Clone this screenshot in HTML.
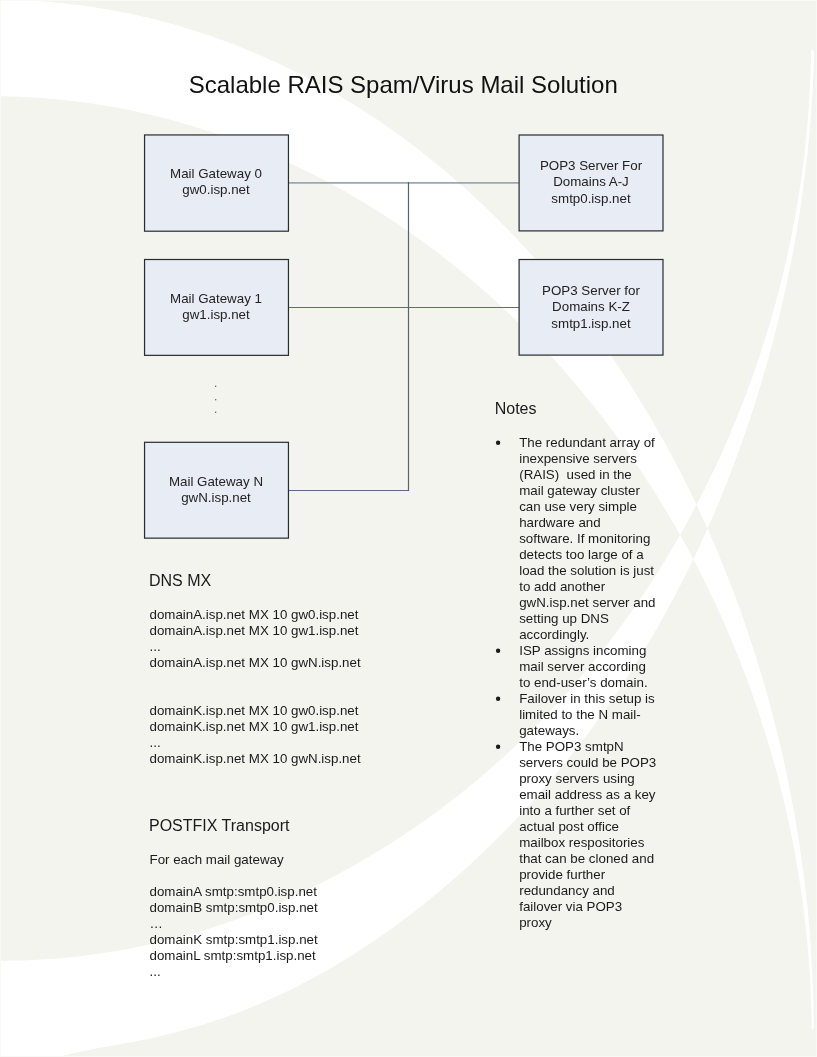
<!DOCTYPE html>
<html><head><meta charset="utf-8"><style>
html,body{margin:0;padding:0;background:#F3F4EE;}
body{width:817px;height:1057px;overflow:hidden;position:relative;}
svg{position:absolute;left:0;top:0;will-change:transform;}
text{font-family:"Liberation Sans",sans-serif;white-space:pre;}
</style></head><body>
<svg width="817" height="1057" viewBox="0 0 817 1057">
<rect x="0" y="0" width="817" height="1057" fill="#F3F4EE"/>
<path d="M-23.2,-0.1 L-13.4,-0.3 L-3.5,-0.3 L6.3,-0.2 L16.0,0.0 L25.7,0.4 L35.3,0.9 L44.9,1.6 L54.5,2.4 L64.0,3.3 L73.5,4.4 L82.9,5.6 L92.3,6.9 L101.6,8.4 L110.8,10.0 L120.1,11.7 L129.2,13.6 L138.4,15.5 L147.4,17.6 L156.5,19.8 L165.4,22.2 L174.4,24.6 L183.2,27.2 L192.1,29.9 L200.8,32.7 L209.6,35.6 L218.2,38.7 L226.8,41.8 L235.4,45.1 L243.9,48.5 L252.4,51.9 L260.8,55.5 L269.1,59.2 L277.4,63.1 L285.7,67.0 L293.9,71.0 L302.0,75.1 L310.1,79.3 L318.1,83.7 L326.1,88.1 L334.0,92.6 L341.8,97.2 L349.6,102.0 L357.4,106.8 L365.0,111.7 L372.7,116.7 L380.2,121.8 L387.7,127.0 L395.2,132.2 L402.6,137.6 L409.9,143.1 L417.2,148.6 L424.4,154.2 L431.5,159.9 L438.6,165.7 L445.7,171.6 L452.6,177.5 L459.6,183.5 L466.4,189.6 L473.2,195.8 L479.9,202.1 L486.6,208.4 L493.2,214.8 L499.7,221.3 L506.2,227.9 L512.6,234.5 L519.0,241.2 L525.2,247.9 L531.5,254.7 L537.6,261.6 L543.7,268.6 L549.7,275.6 L555.7,282.7 L561.6,289.8 L567.4,297.0 L573.2,304.2 L578.8,311.6 L584.5,318.9 L590.0,326.3 L595.5,333.8 L600.9,341.4 L606.3,348.9 L611.6,356.6 L616.8,364.2 L621.9,372.0 L627.0,379.8 L632.0,387.6 L637.0,395.4 L641.8,403.4 L646.6,411.3 L651.4,419.3 L656.0,427.4 L660.6,435.5 L665.2,443.6 L669.6,451.8 L674.0,460.0 L678.3,468.2 L682.6,476.5 L686.8,484.8 L690.9,493.2 L694.9,501.5 L698.9,510.0 L702.8,518.4 L706.7,526.9 L710.5,535.4 L714.2,544.0 L717.8,552.6 L721.4,561.2 L724.9,569.8 L728.3,578.5 L731.7,587.2 L735.0,595.9 L738.2,604.6 L741.4,613.4 L744.5,622.2 L747.5,631.0 L750.4,639.9 L753.3,648.7 L756.2,657.6 L758.9,666.5 L761.6,675.4 L764.2,684.3 L766.8,693.3 L769.3,702.2 L771.7,711.2 L774.0,720.2 L776.3,729.2 L778.5,738.2 L780.7,747.2 L782.7,756.3 L784.7,765.3 L786.7,774.4 L788.6,783.5 L790.4,792.5 L792.1,801.6 L793.8,810.7 L795.4,819.8 L796.9,828.9 L798.4,838.0 L799.8,847.1 L801.1,856.2 L802.4,865.3 L803.6,874.4 L804.7,883.4 L805.8,892.5 L806.8,901.6 L807.8,910.7 L808.6,919.8 L809.4,928.9 L810.2,938.0 L810.8,947.0 L811.4,956.1 L811.9,965.1 L812.4,974.2 L812.8,983.2 L813.1,992.2 L813.4,1001.2 L813.6,1010.2 L813.7,1019.2 L813.8,1028.1 L811.7,1029.4 L811.6,1020.8 L811.4,1012.2 L811.2,1003.6 L810.8,995.0 L810.5,986.3 L810.0,977.7 L809.4,969.1 L808.8,960.5 L808.1,951.8 L807.4,943.2 L806.5,934.6 L805.6,926.0 L804.6,917.3 L803.6,908.7 L802.4,900.1 L801.2,891.5 L799.9,882.9 L798.6,874.3 L797.1,865.8 L795.6,857.2 L794.0,848.6 L792.4,840.1 L790.7,831.5 L788.9,823.0 L787.0,814.5 L785.0,806.0 L783.0,797.5 L780.9,789.0 L778.8,780.6 L776.6,772.1 L774.3,763.7 L771.9,755.3 L769.4,746.9 L766.9,738.5 L764.3,730.2 L761.7,721.9 L759.0,713.6 L756.2,705.3 L753.3,697.0 L750.4,688.8 L747.4,680.6 L744.3,672.4 L741.2,664.2 L738.0,656.1 L734.7,647.9 L731.3,639.9 L727.9,631.8 L724.4,623.8 L720.9,615.8 L717.3,607.8 L713.6,599.9 L709.8,592.0 L706.0,584.1 L702.1,576.3 L698.2,568.5 L694.1,560.7 L690.0,553.0 L685.9,545.3 L681.7,537.7 L677.4,530.1 L673.0,522.5 L668.6,514.9 L664.1,507.4 L659.6,500.0 L655.0,492.6 L650.3,485.2 L645.5,477.9 L640.7,470.6 L635.9,463.4 L630.9,456.2 L625.9,449.0 L620.8,441.9 L615.7,434.9 L610.5,427.9 L605.3,421.0 L599.9,414.1 L594.6,407.2 L589.1,400.4 L583.6,393.7 L578.0,387.0 L572.4,380.3 L566.7,373.8 L561.0,367.2 L555.1,360.8 L549.3,354.3 L543.3,348.0 L537.3,341.7 L531.3,335.5 L525.1,329.3 L519.0,323.2 L512.7,317.1 L506.4,311.1 L500.1,305.2 L493.7,299.3 L487.2,293.5 L480.7,287.8 L474.1,282.1 L467.5,276.5 L460.8,271.0 L454.1,265.5 L447.3,260.2 L440.4,254.8 L433.6,249.6 L426.6,244.4 L419.6,239.3 L412.6,234.3 L405.5,229.4 L398.3,224.5 L391.1,219.7 L383.9,215.0 L376.6,210.3 L369.2,205.8 L361.8,201.3 L354.4,196.9 L346.9,192.6 L339.3,188.3 L331.8,184.2 L324.1,180.1 L316.5,176.1 L308.8,172.2 L301.0,168.4 L293.2,164.7 L285.3,161.1 L277.4,157.5 L269.5,154.1 L261.5,150.7 L253.5,147.5 L245.5,144.3 L237.4,141.2 L229.2,138.2 L221.1,135.3 L212.8,132.5 L204.6,129.8 L196.3,127.2 L188.0,124.7 L179.6,122.3 L171.2,120.0 L162.8,117.8 L154.3,115.7 L145.8,113.7 L137.2,111.8 L128.7,110.0 L120.1,108.3 L111.4,106.7 L102.7,105.3 L94.0,103.9 L85.3,102.6 L76.5,101.5 L67.7,100.4 L58.9,99.5 L50.0,98.7 L41.1,98.0 L32.2,97.4 L23.2,96.9 L14.2,96.6 L5.2,96.3 L-3.8,96.2 L-12.9,96.2 L-22.0,96.3 Z M-20.9,960.2 L-12.0,960.5 L-3.2,960.6 L5.6,960.7 L14.4,960.6 L23.1,960.4 L31.9,960.0 L40.6,959.6 L49.3,959.0 L58.0,958.4 L66.6,957.6 L75.2,956.7 L83.8,955.7 L92.4,954.6 L101.0,953.4 L109.5,952.1 L118.0,950.7 L126.5,949.2 L135.0,947.6 L143.4,945.8 L151.8,944.0 L160.2,942.1 L168.5,940.0 L176.9,937.9 L185.1,935.7 L193.4,933.3 L201.6,930.9 L209.8,928.4 L218.0,925.7 L226.1,923.0 L234.2,920.2 L242.2,917.3 L250.2,914.3 L258.2,911.2 L266.2,908.0 L274.1,904.7 L281.9,901.4 L289.8,897.9 L297.6,894.4 L305.3,890.7 L313.0,887.0 L320.7,883.2 L328.3,879.3 L335.9,875.4 L343.4,871.3 L350.9,867.2 L358.4,862.9 L365.8,858.6 L373.2,854.3 L380.5,849.8 L387.8,845.3 L395.0,840.6 L402.2,835.9 L409.3,831.2 L416.4,826.3 L423.4,821.4 L430.4,816.4 L437.3,811.4 L444.2,806.2 L451.0,801.0 L457.8,795.7 L464.5,790.4 L471.2,785.0 L477.8,779.5 L484.3,773.9 L490.8,768.3 L497.3,762.6 L503.7,756.9 L510.0,751.0 L516.3,745.2 L522.5,739.2 L528.6,733.2 L534.7,727.1 L540.7,721.0 L546.7,714.8 L552.6,708.6 L558.5,702.3 L564.3,695.9 L570.0,689.5 L575.6,683.1 L581.2,676.5 L586.8,670.0 L592.2,663.3 L597.6,656.6 L603.0,649.9 L608.3,643.1 L613.5,636.3 L618.6,629.4 L623.7,622.5 L628.7,615.5 L633.7,608.4 L638.6,601.4 L643.4,594.2 L648.2,587.1 L652.9,579.9 L657.5,572.6 L662.1,565.3 L666.6,558.0 L671.0,550.6 L675.4,543.1 L679.7,535.7 L683.9,528.2 L688.1,520.6 L692.2,513.0 L696.2,505.4 L700.2,497.8 L704.1,490.1 L707.9,482.3 L711.7,474.6 L715.4,466.8 L719.1,459.0 L722.6,451.1 L726.1,443.2 L729.6,435.3 L732.9,427.3 L736.2,419.3 L739.4,411.3 L742.6,403.3 L745.7,395.2 L748.7,387.1 L751.7,379.0 L754.5,370.9 L757.3,362.7 L760.1,354.5 L762.8,346.3 L765.4,338.1 L767.9,329.8 L770.4,321.5 L772.7,313.2 L775.1,304.9 L777.3,296.6 L779.5,288.2 L781.6,279.9 L783.6,271.5 L785.6,263.1 L787.5,254.7 L789.3,246.2 L791.1,237.8 L792.7,229.3 L794.4,220.9 L795.9,212.4 L797.3,203.9 L798.7,195.4 L800.1,186.9 L801.3,178.4 L802.5,169.9 L803.6,161.3 L804.6,152.8 L805.5,144.2 L806.4,135.7 L807.2,127.2 L807.9,118.6 L808.6,110.1 L809.2,101.5 L809.7,92.9 L810.1,84.4 L810.5,75.8 L810.7,67.3 L810.9,58.7 L811.1,50.2 L814.3,50.6 L814.1,59.4 L813.7,68.1 L813.3,76.9 L812.9,85.7 L812.4,94.5 L811.8,103.3 L811.2,112.1 L810.5,120.9 L809.7,129.7 L808.9,138.6 L808.0,147.4 L807.1,156.2 L806.1,165.0 L805.0,173.8 L803.9,182.6 L802.7,191.4 L801.5,200.2 L800.2,209.0 L798.8,217.8 L797.4,226.6 L795.9,235.4 L794.4,244.2 L792.8,252.9 L791.1,261.7 L789.4,270.4 L787.6,279.2 L785.7,287.9 L783.8,296.6 L781.8,305.3 L779.8,314.0 L777.7,322.7 L775.5,331.4 L773.3,340.0 L771.0,348.7 L768.7,357.3 L766.3,365.9 L763.8,374.5 L761.3,383.1 L758.7,391.6 L756.0,400.2 L753.3,408.7 L750.5,417.2 L747.7,425.7 L744.8,434.1 L741.8,442.6 L738.8,451.0 L735.7,459.4 L732.6,467.7 L729.4,476.1 L726.1,484.4 L722.8,492.7 L719.4,500.9 L715.9,509.2 L712.4,517.4 L708.8,525.6 L705.2,533.7 L701.5,541.8 L697.7,549.9 L693.9,558.0 L690.0,566.0 L686.0,574.0 L682.0,581.9 L677.9,589.9 L673.8,597.7 L669.6,605.6 L665.3,613.4 L661.0,621.2 L656.6,628.9 L652.1,636.6 L647.6,644.3 L643.0,651.9 L638.4,659.5 L633.7,667.0 L628.9,674.5 L624.1,682.0 L619.2,689.4 L614.2,696.8 L609.2,704.1 L604.1,711.4 L598.9,718.6 L593.7,725.8 L588.5,733.0 L583.1,740.1 L577.7,747.1 L572.3,754.1 L566.7,761.1 L561.1,768.0 L555.5,774.8 L549.8,781.6 L544.0,788.3 L538.1,795.0 L532.2,801.7 L526.3,808.3 L520.2,814.8 L514.1,821.3 L508.0,827.7 L501.7,834.0 L495.4,840.3 L489.1,846.5 L482.7,852.7 L476.2,858.8 L469.7,864.9 L463.1,870.9 L456.4,876.8 L449.7,882.6 L442.9,888.4 L436.1,894.1 L429.2,899.8 L422.2,905.4 L415.2,910.9 L408.1,916.3 L401.0,921.7 L393.8,927.0 L386.5,932.2 L379.2,937.3 L371.8,942.3 L364.4,947.3 L356.9,952.2 L349.4,956.9 L341.8,961.6 L334.1,966.2 L326.4,970.7 L318.6,975.0 L310.8,979.3 L302.9,983.5 L295.0,987.5 L287.0,991.5 L279.0,995.3 L270.9,999.0 L262.7,1002.6 L254.5,1006.1 L246.3,1009.4 L238.0,1012.7 L229.6,1015.8 L221.2,1018.7 L212.8,1021.6 L204.3,1024.3 L195.8,1026.8 L187.2,1029.3 L178.6,1031.6 L169.9,1033.8 L161.2,1035.9 L152.5,1037.9 L143.8,1039.7 L135.0,1041.4 L126.2,1043.1 L117.4,1044.7 L108.7,1046.3 L100.0,1047.8 L91.3,1049.5 L82.7,1051.2 L74.2,1053.0 L65.8,1055.0 L57.5,1057.1 L49.3,1059.4 L41.3,1061.9 L33.5,1064.7 L25.8,1067.7 L18.3,1071.1 L-20.0,1075.0 Z" fill="#FFFFFF" fill-rule="evenodd"/>
<rect x="816" y="0" width="1" height="1057" fill="#F8F9F5"/><rect x="0" y="0" width="1" height="1057" fill="#F9FAF5"/><rect x="0" y="0" width="817" height="1" fill="#F9FAF5"/><rect x="0" y="1056" width="817" height="1" fill="#F8F9F5"/>

<path d="M289,182.9 H519" stroke="#9AA7B5" stroke-width="1.8" fill="none"/>
<path d="M289,307.5 H519" stroke="#5C6D82" stroke-width="1.2" fill="none"/>
<path d="M289,490.5 H408.5" stroke="#5C6D82" stroke-width="1.2" fill="none"/>
<path d="M408.5,182 V491" stroke="#58636E" stroke-width="1.2" fill="none"/>

<rect x="144.55" y="134.95" width="143.9" height="96.25" fill="#E8ECF5" stroke="#262C30" stroke-width="1.2"/><rect x="144.55" y="259.5" width="143.9" height="95.85" fill="#E8ECF5" stroke="#262C30" stroke-width="1.2"/><rect x="144.55" y="442.3" width="143.9" height="95.85" fill="#E8ECF5" stroke="#262C30" stroke-width="1.2"/><rect x="519.1" y="135" width="143.9" height="95.9" fill="#E8ECF5" stroke="#262C30" stroke-width="1.2"/><rect x="519.1" y="259.5" width="143.9" height="95.6" fill="#E8ECF5" stroke="#262C30" stroke-width="1.2"/>
<circle cx="215.7" cy="386.3" r="0.7" fill="#555"/><circle cx="215.7" cy="399.8" r="0.7" fill="#555"/><circle cx="215.7" cy="412.3" r="0.7" fill="#555"/>
<circle cx="498.1" cy="442.7" r="2.2" fill="#1a1a1a"/><circle cx="498.1" cy="650.7" r="2.2" fill="#1a1a1a"/><circle cx="498.1" cy="698.7" r="2.2" fill="#1a1a1a"/><circle cx="498.1" cy="746.7" r="2.2" fill="#1a1a1a"/>
<g fill="#000">
<text x="188.70000000000002" y="93.4" font-size="24" text-anchor="start" fill="#111">Scalable RAIS Spam/Virus Mail Solution</text>
<text x="216" y="178.3" font-size="13.33" text-anchor="middle" fill="#222">Mail Gateway 0</text>
<text x="216" y="194.4" font-size="13.33" text-anchor="middle" fill="#222">gw0.isp.net</text>
<text x="216" y="303.3" font-size="13.33" text-anchor="middle" fill="#222">Mail Gateway 1</text>
<text x="216" y="319.4" font-size="13.33" text-anchor="middle" fill="#222">gw1.isp.net</text>
<text x="216" y="485.8" font-size="13.33" text-anchor="middle" fill="#222">Mail Gateway N</text>
<text x="216" y="501.9" font-size="13.33" text-anchor="middle" fill="#222">gwN.isp.net</text>
<text x="591" y="170.1" font-size="13.33" text-anchor="middle" fill="#222">POP3 Server For</text>
<text x="591" y="186.4" font-size="13.33" text-anchor="middle" fill="#222">Domains A-J</text>
<text x="591" y="202.7" font-size="13.33" text-anchor="middle" fill="#222">smtp0.isp.net</text>
<text x="591" y="295.1" font-size="13.33" text-anchor="middle" fill="#222">POP3 Server for</text>
<text x="591" y="311.4" font-size="13.33" text-anchor="middle" fill="#222">Domains K-Z</text>
<text x="591" y="327.7" font-size="13.33" text-anchor="middle" fill="#222">smtp1.isp.net</text>
<text x="149" y="585.9" font-size="16" text-anchor="start" fill="#1a1a1a">DNS MX</text>
<text x="149.5" y="618.8" font-size="13.33" text-anchor="start" fill="#1a1a1a">domainA.isp.net MX 10 gw0.isp.net</text>
<text x="149.5" y="634.8" font-size="13.33" text-anchor="start" fill="#1a1a1a">domainA.isp.net MX 10 gw1.isp.net</text>
<text x="149.5" y="650.8" font-size="13.33" text-anchor="start" fill="#1a1a1a">...</text>
<text x="149.5" y="666.8" font-size="13.33" text-anchor="start" fill="#1a1a1a">domainA.isp.net MX 10 gwN.isp.net</text>
<text x="149.5" y="714.8" font-size="13.33" text-anchor="start" fill="#1a1a1a">domainK.isp.net MX 10 gw0.isp.net</text>
<text x="149.5" y="730.8" font-size="13.33" text-anchor="start" fill="#1a1a1a">domainK.isp.net MX 10 gw1.isp.net</text>
<text x="149.5" y="746.8" font-size="13.33" text-anchor="start" fill="#1a1a1a">...</text>
<text x="149.5" y="762.8" font-size="13.33" text-anchor="start" fill="#1a1a1a">domainK.isp.net MX 10 gwN.isp.net</text>
<text x="149" y="830.9" font-size="16" text-anchor="start" fill="#1a1a1a">POSTFIX Transport</text>
<text x="149.5" y="863.8" font-size="13.33" text-anchor="start" fill="#1a1a1a">For each mail gateway</text>
<text x="149.5" y="895.8" font-size="13.33" text-anchor="start" fill="#1a1a1a">domainA smtp:smtp0.isp.net</text>
<text x="149.5" y="911.8" font-size="13.33" text-anchor="start" fill="#1a1a1a">domainB smtp:smtp0.isp.net</text>
<text x="149.5" y="927.8" font-size="13.33" text-anchor="start" fill="#1a1a1a">…</text>
<text x="149.5" y="943.8" font-size="13.33" text-anchor="start" fill="#1a1a1a">domainK smtp:smtp1.isp.net</text>
<text x="149.5" y="959.8" font-size="13.33" text-anchor="start" fill="#1a1a1a">domainL smtp:smtp1.isp.net</text>
<text x="149.5" y="975.8" font-size="13.33" text-anchor="start" fill="#1a1a1a">...</text>
<text x="494.7" y="413.5" font-size="16" text-anchor="start" fill="#1a1a1a">Notes</text>
<text x="519.2" y="446.6" font-size="13.33" text-anchor="start" fill="#1a1a1a">The redundant array of</text>
<text x="519.2" y="462.6" font-size="13.33" text-anchor="start" fill="#1a1a1a">inexpensive servers</text>
<text x="519.2" y="478.6" font-size="13.33" text-anchor="start" fill="#1a1a1a">(RAIS)  used in the</text>
<text x="519.2" y="494.6" font-size="13.33" text-anchor="start" fill="#1a1a1a">mail gateway cluster</text>
<text x="519.2" y="510.6" font-size="13.33" text-anchor="start" fill="#1a1a1a">can use very simple</text>
<text x="519.2" y="526.6" font-size="13.33" text-anchor="start" fill="#1a1a1a">hardware and</text>
<text x="519.2" y="542.6" font-size="13.33" text-anchor="start" fill="#1a1a1a">software. If monitoring</text>
<text x="519.2" y="558.6" font-size="13.33" text-anchor="start" fill="#1a1a1a">detects too large of a</text>
<text x="519.2" y="574.6" font-size="13.33" text-anchor="start" fill="#1a1a1a">load the solution is just</text>
<text x="519.2" y="590.6" font-size="13.33" text-anchor="start" fill="#1a1a1a">to add another</text>
<text x="519.2" y="606.6" font-size="13.33" text-anchor="start" fill="#1a1a1a">gwN.isp.net server and</text>
<text x="519.2" y="622.6" font-size="13.33" text-anchor="start" fill="#1a1a1a">setting up DNS</text>
<text x="519.2" y="638.6" font-size="13.33" text-anchor="start" fill="#1a1a1a">accordingly.</text>
<text x="519.2" y="654.6" font-size="13.33" text-anchor="start" fill="#1a1a1a">ISP assigns incoming</text>
<text x="519.2" y="670.6" font-size="13.33" text-anchor="start" fill="#1a1a1a">mail server according</text>
<text x="519.2" y="686.6" font-size="13.33" text-anchor="start" fill="#1a1a1a">to end-user’s domain.</text>
<text x="519.2" y="702.6" font-size="13.33" text-anchor="start" fill="#1a1a1a">Failover in this setup is</text>
<text x="519.2" y="718.6" font-size="13.33" text-anchor="start" fill="#1a1a1a">limited to the N mail-</text>
<text x="519.2" y="734.6" font-size="13.33" text-anchor="start" fill="#1a1a1a">gateways.</text>
<text x="519.2" y="750.6" font-size="13.33" text-anchor="start" fill="#1a1a1a">The POP3 smtpN</text>
<text x="519.2" y="766.6" font-size="13.33" text-anchor="start" fill="#1a1a1a">servers could be POP3</text>
<text x="519.2" y="782.6" font-size="13.33" text-anchor="start" fill="#1a1a1a">proxy servers using</text>
<text x="519.2" y="798.6" font-size="13.33" text-anchor="start" fill="#1a1a1a">email address as a key</text>
<text x="519.2" y="814.6" font-size="13.33" text-anchor="start" fill="#1a1a1a">into a further set of</text>
<text x="519.2" y="830.6" font-size="13.33" text-anchor="start" fill="#1a1a1a">actual post office</text>
<text x="519.2" y="846.6" font-size="13.33" text-anchor="start" fill="#1a1a1a">mailbox respositories</text>
<text x="519.2" y="862.6" font-size="13.33" text-anchor="start" fill="#1a1a1a">that can be cloned and</text>
<text x="519.2" y="878.6" font-size="13.33" text-anchor="start" fill="#1a1a1a">provide further</text>
<text x="519.2" y="894.6" font-size="13.33" text-anchor="start" fill="#1a1a1a">redundancy and</text>
<text x="519.2" y="910.6" font-size="13.33" text-anchor="start" fill="#1a1a1a">failover via POP3</text>
<text x="519.2" y="926.6" font-size="13.33" text-anchor="start" fill="#1a1a1a">proxy</text>
</g>
</svg>
</body></html>
